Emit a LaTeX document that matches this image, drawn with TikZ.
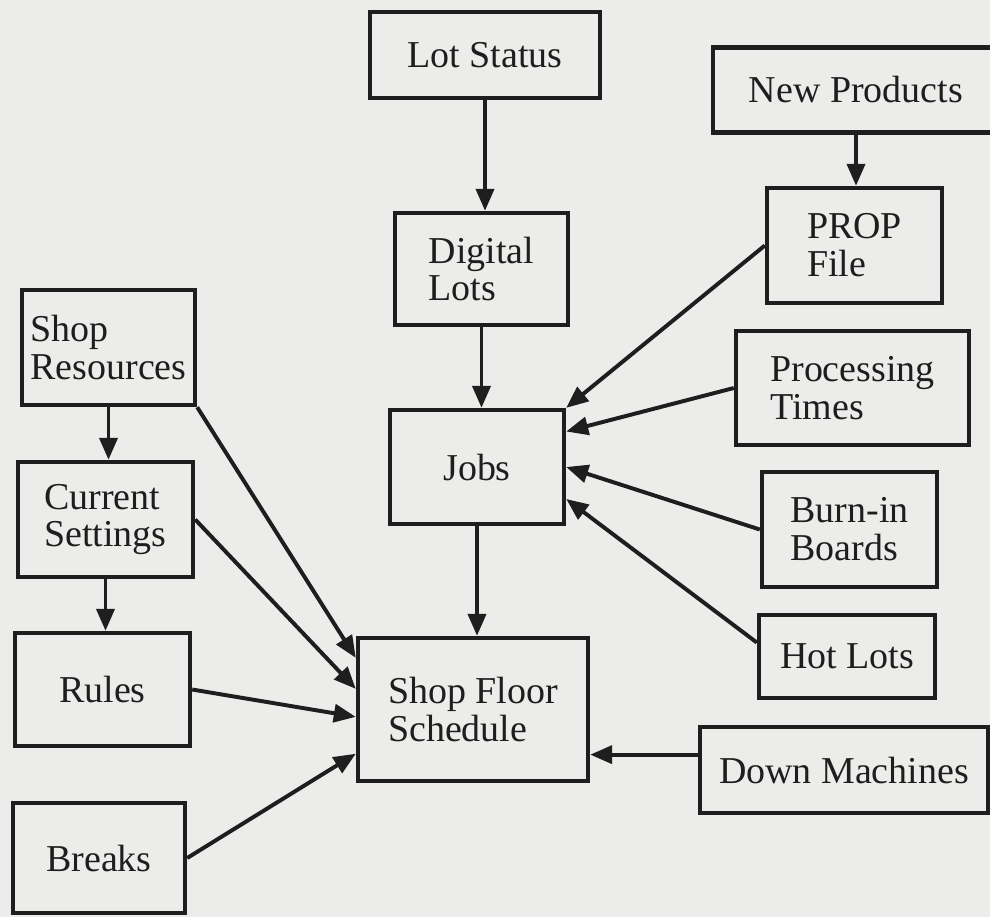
\documentclass[tikz,border=0pt]{standalone}
\usepackage{fontspec}
\setmainfont{Liberation Serif}
\usetikzlibrary{arrows.meta,calc}
\definecolor{paper}{RGB}{236,236,234}
\definecolor{ink}{RGB}{30,30,30}
\begin{document}
\begin{tikzpicture}[x=0.025cm,y=-0.025cm,
  box/.style={draw=ink, line width=3.1pt, rectangle, inner sep=0pt, align=left,
    text=ink, font=\fontsize{27}{27}\selectfont},
  arr/.style={draw=ink, line width=2.8pt, -{Triangle[length=0.55cm,width=0.45cm]}}]
\fill[paper] (0,0) rectangle (990,917);
\useasboundingbox (0,0) rectangle (990,917);
\clip (0,0) rectangle (990,917);

\node[box, minimum width=5.75cm,  minimum height=2.15cm]  (lot)     at (485,55)     {Lot Status};
\node[box, minimum width=7.15cm,  minimum height=2.125cm] (newp)    at (856,90)     {New Products};
\node[box, minimum width=4.325cm, minimum height=2.8cm]   (dig)     at (481.5,269)  {Digital\\Lots};
\node[box, minimum width=4.375cm, minimum height=2.875cm] (prop)    at (854.5,245.5){PROP\\File};
\node[box, minimum width=4.325cm, minimum height=2.875cm] (shopres) at (108.5,347.5){Shop\\Resources};
\node[box, minimum width=5.825cm, minimum height=2.85cm]  (proc)    at (852.5,388)  {Processing\\Times};
\node[box, minimum width=4.35cm,  minimum height=2.85cm]  (jobs)    at (477,467)    {Jobs};
\node[box, minimum width=4.375cm, minimum height=2.875cm] (cur)     at (105.5,519.5){Current\\Settings};
\node[box, minimum width=4.375cm, minimum height=2.875cm] (burn)    at (849.5,529.5){Burn-in\\Boards};
\node[box, minimum width=4.375cm, minimum height=2.825cm] (rules)   at (102.5,689.5){Rules};
\node[box, minimum width=5.75cm,  minimum height=3.575cm] (sfs)     at (473,709.5)  {Shop Floor\\Schedule};
\node[box, minimum width=4.4cm,   minimum height=2.075cm] (hot)     at (847,656.5)  {Hot Lots};
\node[box, minimum width=7.2cm,   minimum height=2.15cm]  (down)    at (844,770)    {Down Machines};
\node[box, minimum width=4.3cm,   minimum height=2.75cm]  (breaks)  at (99,858)     {Breaks};

\draw[arr] (lot.south) -- (lot.south |- dig.north);
\draw[arr] (dig.south) -- (dig.south |- jobs.north);
\draw[arr] (newp.south) -- (newp.south |- prop.north);
\draw[arr] (shopres.south) -- (shopres.south |- cur.north);
\draw[arr] (cur.south) -- (cur.south |- rules.north);
\draw[arr] (jobs.south) -- (jobs.south |- sfs.north);

\draw[arr] (prop.west) -- (jobs.north east);
\draw[arr] (proc.west) -- ($(jobs.north east)!0.2!(jobs.south east)$);
\draw[arr] (burn.west) -- (jobs.east);
\draw[arr] ($(hot.north west)!0.34!(hot.south west)$) -- ($(jobs.north east)!0.77!(jobs.south east)$);
\coordinate (dm) at ($(down.north west)!0.33!(down.south west)$);
\draw[arr] (dm) -- (dm -| sfs.east);

\draw[arr] (shopres.south east) -- ($(sfs.north west)!0.15!(sfs.south west)$);
\draw[arr] (cur.east) -- ($(sfs.north west)!0.36!(sfs.south west)$);
\draw[arr] (rules.east) -- ($(sfs.north west)!0.55!(sfs.south west)$);
\draw[arr] (breaks.east) -- ($(sfs.north west)!0.8!(sfs.south west)$);
\end{tikzpicture}
\end{document}
